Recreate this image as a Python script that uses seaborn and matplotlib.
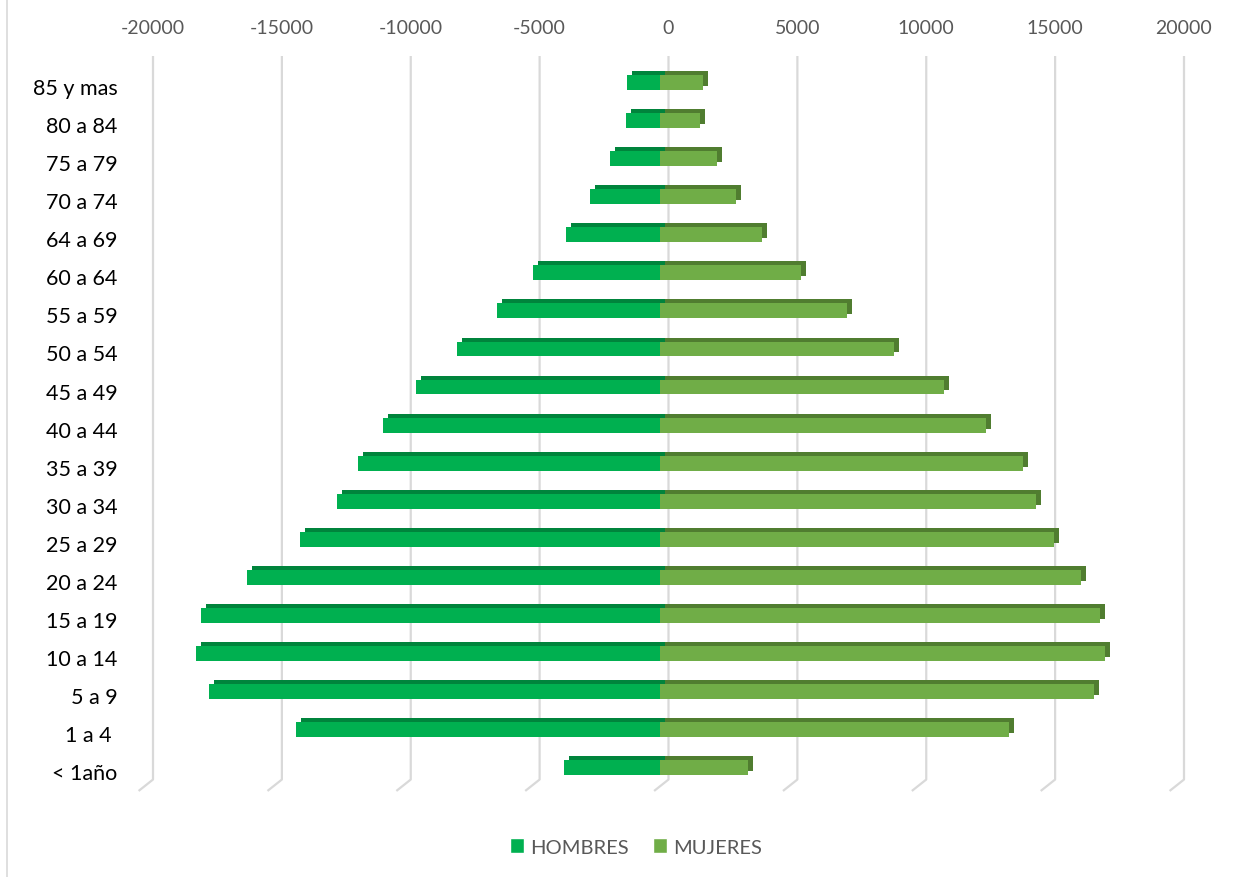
import matplotlib
matplotlib.use("Agg")
import matplotlib.pyplot as plt
import matplotlib.transforms as mtransforms
from matplotlib.patches import Patch
from matplotlib.lines import Line2D
import pandas as pd
import seaborn as sns

# --------------------------------------------------------------
# Data
# --------------------------------------------------------------
grupos = ["85 y mas", "80 a 84", "75 a 79", "70 a 74", "64 a 69", "60 a 64",
          "55 a 59", "50 a 54", "45 a 49", "40 a 44", "35 a 39", "30 a 34",
          "25 a 29", "20 a 24", "15 a 19", "10 a 14", "5 a 9", "1 a 4 ", "< 1año"]
hombres = [1280, 1290, 1930, 2690, 3640, 4900, 6310, 7850, 9450, 10720,
           11690, 12520, 13960, 16000, 17780, 18000, 17490, 14110, 3700]
mujeres = [1670, 1580, 2220, 2950, 3980, 5500, 7270, 9080, 11020, 12670,
           14090, 14610, 15310, 16360, 17090, 17300, 16850, 13550, 3430]
ticks = [-20000, -15000, -10000, -5000, 0, 5000, 10000, 15000, 20000]

df = pd.DataFrame({
    "grupo": grupos * 2,
    "valor": [-v for v in hombres] + mujeres,
    "sexo": ["HOMBRES"] * len(grupos) + ["MUJERES"] * len(grupos),
})

front = {"HOMBRES": "#00B050", "MUJERES": "#70AD47"}
shade = {"HOMBRES": "#00843C", "MUJERES": "#507D30"}

sns.set_style("white")
plt.rcParams["font.family"] = ["Lato", "DejaVu Sans"]

W, H = 1241, 878
fig = plt.figure(figsize=(W / 100, H / 100), dpi=100)
ax_l, ax_r, ax_t, ax_b = 144, 1175, 45.4, 806.8
ax = fig.add_axes([ax_l / W, 1 - ax_b / H, (ax_r - ax_l) / W, (ax_b - ax_t) / H])

# 3D look: darker copy shifted up/right sits behind the front face
sns.barplot(data=df, y="grupo", x="valor", hue="sexo", order=grupos,
            palette=shade, dodge=False, width=0.39, legend=False,
            saturation=1, ax=ax, linewidth=0)
depth = mtransforms.ScaledTranslation(5 / 100, 4 / 100, fig.dpi_scale_trans)
n_shadow = len(ax.patches)
for p in ax.patches:
    p.set_transform(ax.transData + depth)
    p.set_zorder(2)

sns.barplot(data=df, y="grupo", x="valor", hue="sexo", order=grupos,
            palette=front, dodge=False, width=0.39, legend=False,
            saturation=1, ax=ax, linewidth=0)
for p in ax.patches[n_shadow:]:
    p.set_zorder(3)

ax.set_xlim(-20000, 20000)
ax.set_ylim(19.0, -1.0)

# gridlines on the back wall plus the floor slant
unit_px = (ax_r - ax_l) / 40000
back = 9 / unit_px
slant = 14.4 / unit_px
for t in ticks:
    ax.plot([t + back, t + back, t + back - slant], [-0.695, 18.31, 18.61],
            color="#D9D9D9", lw=1.6, zorder=1, solid_capstyle="butt",
            clip_on=False)
    ax.text(t + back, -1.45, str(t), ha="center", va="center",
            fontsize=14, color="#595959", clip_on=False)

ax.set_xticks([])
ax.set_xlabel("")
ax.set_ylabel("")
ax.tick_params(axis="y", length=0, pad=19, labelsize=15.5, labelcolor="#000000")
down = mtransforms.ScaledTranslation(0, -3.5 / 100, fig.dpi_scale_trans)
for lbl in ax.get_yticklabels():
    lbl.set_transform(lbl.get_transform() + down)
sns.despine(ax=ax, left=True, bottom=True)

handles = [Patch(facecolor=front["HOMBRES"], label="HOMBRES"),
           Patch(facecolor=front["MUJERES"], label="MUJERES")]
fig.legend(handles=handles, loc="center", bbox_to_anchor=(0.5125, 1 - 848 / H),
           ncol=2, frameon=False, fontsize=14.5, handlelength=0.7, handleheight=0.7,
           handletextpad=0.3, columnspacing=1.2, labelcolor="#595959")

fig.add_artist(Line2D([7 / W, 7 / W], [0, 1], color="#D9D9D9", lw=1.2))

fig.savefig("out.png", dpi=100)
